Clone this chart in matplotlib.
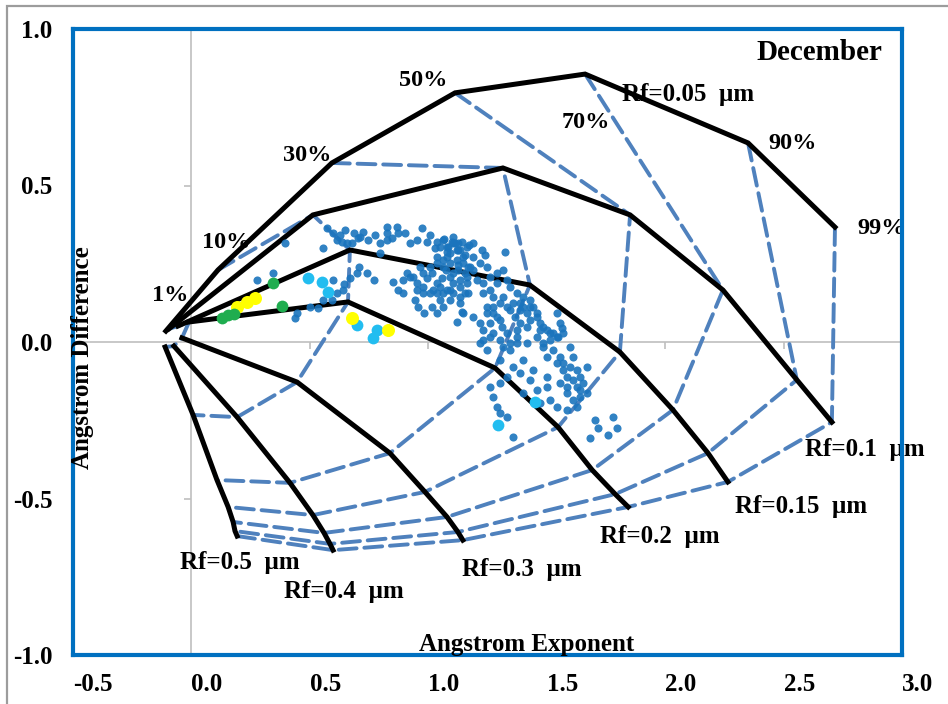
import matplotlib
matplotlib.use("Agg")
import matplotlib.pyplot as plt
from matplotlib.patches import Rectangle

plt.rcParams['font.family'] = ['Liberation Serif', 'DejaVu Serif']
plt.rcParams['font.weight'] = 'bold'

# ---------------------------------------------------------------------------
# Classification grid: one curve per fine-mode radius, nodes at the
# fine-mode fractions 1%, 10%, 30%, 50%, 70%, 90%, 99%
# ---------------------------------------------------------------------------
eta_labels = ['1%', '10%', '30%', '50%', '70%', '90%', '99%']
rf_labels = ['Rf=0.05  \u00b5m', 'Rf=0.1  \u00b5m', 'Rf=0.15  \u00b5m', 'Rf=0.2  \u00b5m',
             'Rf=0.3  \u00b5m', 'Rf=0.4  \u00b5m', 'Rf=0.5  \u00b5m']

ae_rf005 = [-0.108, 0.112, 0.593, 1.113, 1.662, 2.350, 2.717]
ad_rf005 = [0.035, 0.230, 0.572, 0.796, 0.856, 0.636, 0.367]
ae_rf010 = [-0.095, 0.513, 1.315, 1.852, 2.244, 2.556, 2.704]
ad_rf010 = [0.042, 0.406, 0.556, 0.406, 0.166, -0.121, -0.256]
ae_rf015 = [-0.057, 0.669, 1.429, 1.809, 2.033, 2.181, 2.265]
ad_rf015 = [0.051, 0.294, 0.182, -0.032, -0.217, -0.355, -0.447]
ae_rf020 = [-0.010, 0.661, 1.282, 1.548, 1.692, 1.789, 1.844]
ad_rf020 = [0.064, 0.128, -0.083, -0.272, -0.409, -0.486, -0.527]
ae_rf030 = [-0.040, 0.446, 0.838, 0.986, 1.079, 1.125, 1.146]
ad_rf030 = [0.013, -0.128, -0.355, -0.479, -0.559, -0.607, -0.633]
ae_rf040 = [-0.074, 0.193, 0.416, 0.513, 0.560, 0.585, 0.598]
ad_rf040 = [-0.013, -0.240, -0.450, -0.553, -0.610, -0.645, -0.665]
ae_rf050 = [-0.111, 0.007, 0.108, 0.155, 0.176, 0.184, 0.193]
ad_rf050 = [-0.016, -0.233, -0.441, -0.527, -0.575, -0.604, -0.620]

grid_ae = [ae_rf005, ae_rf010, ae_rf015, ae_rf020, ae_rf030, ae_rf040, ae_rf050]
grid_ad = [ad_rf005, ad_rf010, ad_rf015, ad_rf020, ad_rf030, ad_rf040, ad_rf050]

# label anchor points (centre of text, data units)
eta_label_x = [-0.090, 0.147, 0.488, 0.978, 1.666, 2.536, 2.915]
eta_label_y = [0.147, 0.319, 0.597, 0.837, 0.700, 0.633, 0.364]
rf_label_x = [2.097, 2.843, 2.574, 1.978, 1.395, 0.644, 0.206]
rf_label_y = [0.792, -0.345, -0.524, -0.623, -0.728, -0.796, -0.706]

# ---------------------------------------------------------------------------
# December observations
# ---------------------------------------------------------------------------
obs_ae = [0.395, 0.556, 0.572, 0.598, 0.615, 0.636, 0.657, 0.678, 0.686, 0.711,
          0.724, 0.745, 0.826, 0.826, 0.826, 0.868, 0.872, 0.952, 0.973, 0.994,
          1.037, 1.062, 1.083, 1.113, 1.143, 1.164, 0.277, 0.344, 0.556, 0.534,
          0.501, 0.446, 0.437, 0.640, 0.644, 0.669, 0.699, 0.707, 0.741, 0.771,
          0.796, 0.851, 0.872, 0.893, 0.910, 0.935, 0.952, 0.978, 1.007, 1.020,
          1.037, 1.058, 1.075, 1.092, 1.104, 1.134, 1.155, 0.944, 0.957, 0.982,
          1.016, 1.049, 1.062, 1.143, 1.121, 1.092, 1.062, 1.092, 1.121, 1.147,
          1.037, 1.007, 0.978, 0.598, 0.615, 0.594,
          1.066, 1.104, 1.134, 1.170, 1.189, 1.227, 1.239, 1.324, 1.079, 1.125,
          1.176, 1.206, 1.231, 1.260, 1.290, 1.332, 1.345, 1.375, 1.400, 1.429,
          1.442, 1.459, 1.387, 1.366, 1.302, 1.273, 1.248, 1.311, 1.332, 1.260,
          1.218, 1.189, 1.147, 1.134, 1.471, 1.501, 1.526, 1.547, 1.564, 1.417,
          1.375, 1.345,
          1.248, 1.273, 1.302, 1.345, 1.387, 1.429, 1.459, 1.484, 1.513, 1.543,
          1.556, 1.526, 1.556, 1.568, 1.598, 1.585, 1.611, 1.628, 1.640, 1.640,
          1.611, 1.585, 1.568, 1.543, 1.358, 1.387, 1.400, 1.442, 1.429, 1.501,
          1.513, 1.543, 1.471, 1.260, 1.273, 1.290, 1.302, 1.358, 1.670, 1.704,
          1.683, 1.759, 1.779, 1.796, 1.218, 1.231, 1.248, 1.302, 1.315, 1.345,
          1.375, 1.417, 1.471, 1.484, 1.501,
          1.049, 1.079, 1.100, 1.125, 1.155, 1.062, 1.092, 1.125, 1.155, 1.168,
          1.037, 1.016, 0.994, 0.965, 0.923, 0.893, 0.952, 0.978, 1.037, 1.049,
          1.079, 1.104, 1.134, 1.092, 1.062, 1.037, 1.164, 1.168,
          1.079, 1.121, 1.147, 1.189, 1.218, 1.248, 1.189, 1.164, 1.134, 1.104,
          1.260, 1.290, 1.315, 1.231, 1.273, 1.315, 1.332, 1.358, 1.400, 1.417,
          1.429, 1.387, 1.290, 1.260, 1.231, 1.273, 1.302, 1.375, 1.459, 1.484,
          1.513,
          1.543, 1.568, 1.598, 1.611, 1.628, 1.640, 1.653, 1.585, 1.556, 1.501,
          1.459, 1.400, 1.332, 1.302, 1.670, 1.628, 1.585, 1.717, 1.332,
          0.627, 0.648, 0.703, 0.775, 0.796, 0.847, 0.902, 0.923, 1.007, 1.028,
          1.104, 1.125]
obs_ad = [0.316, 0.300, 0.364, 0.348, 0.326, 0.319, 0.316, 0.316, 0.348, 0.335,
          0.351, 0.326, 0.367, 0.348, 0.326, 0.367, 0.348, 0.326, 0.364, 0.319,
          0.319, 0.326, 0.304, 0.316, 0.319, 0.304, 0.198, 0.220, 0.134, 0.109,
          0.112, 0.093, 0.077, 0.166, 0.185, 0.204, 0.220, 0.240, 0.220, 0.198,
          0.284, 0.192, 0.166, 0.157, 0.220, 0.208, 0.188, 0.176, 0.157, 0.166,
          0.188, 0.204, 0.230, 0.208, 0.188, 0.176, 0.157, 0.134, 0.112, 0.093,
          0.112, 0.134, 0.157, 0.096, 0.064, 0.166, 0.262, 0.284, 0.262, 0.252,
          0.252, 0.240, 0.220, 0.198, 0.157, 0.134,
          0.330, 0.316, 0.294, 0.310, 0.316, 0.294, 0.278, 0.288, 0.272, 0.245,
          0.240, 0.198, 0.188, 0.166, 0.188, 0.198, 0.176, 0.157, 0.144, 0.134,
          0.112, 0.093, 0.102, 0.080, 0.125, 0.112, 0.093, 0.048, 0.029, 0.016,
          -0.003, 0.080, 0.093, 0.125, 0.061, 0.038, 0.029, 0.016, 0.045, 0.048,
          0.016, -0.003,
          0.112, 0.093, 0.070, 0.102, 0.125, 0.112, 0.080, 0.048, 0.029, 0.016,
          0.061, -0.026, -0.048, -0.067, -0.080, -0.112, -0.121, -0.144, -0.153, -0.176,
          -0.185, -0.144, -0.089, -0.067, -0.080, -0.099, -0.058, -0.089, -0.121, -0.112,
          -0.185, -0.208, -0.195, -0.144, -0.176, -0.208, -0.227, -0.304, -0.080, -0.249,
          -0.307, -0.297, -0.240, -0.275, 0.061, 0.006, -0.026, -0.058, -0.016, -0.026,
          -0.003, -0.003, 0.038, -0.016, -0.048,
          0.304, 0.288, 0.319, 0.294, 0.278, 0.240, 0.252, 0.230, 0.220, 0.240,
          0.272, 0.220, 0.204, 0.240, 0.208, 0.198, 0.166, 0.157, 0.157, 0.176,
          0.166, 0.157, 0.144, 0.134, 0.112, 0.093, 0.188, 0.157,
          0.304, 0.294, 0.272, 0.272, 0.252, 0.240, 0.230, 0.208, 0.198, 0.220,
          0.208, 0.220, 0.230, 0.157, 0.144, 0.144, 0.112, 0.125, 0.112, 0.093,
          0.070, 0.061, 0.080, 0.061, 0.038, 0.029, 0.006, 0.038, 0.016, -0.003,
          0.006,
          0.093, 0.029, -0.016, -0.048, -0.089, -0.112, -0.131, -0.163, -0.131, -0.144,
          -0.153, -0.163, -0.112, -0.131, -0.163, -0.208, -0.217, -0.275, -0.240,
          0.342, 0.358, 0.332, 0.342, 0.316, 0.332, 0.348, 0.316, 0.342, 0.300,
          0.335, 0.316]

cyan_ae = [0.493, 0.552, 0.577, 0.700, 0.767, 0.784, 1.294, 1.450]
cyan_ad = [0.204, 0.192, 0.160, 0.054, 0.013, 0.038, -0.265, -0.192]
yellow_ae = [0.194, 0.236, 0.269, 0.678, 0.830]
yellow_ad = [0.112, 0.128, 0.141, 0.077, 0.038]
green_ae = [0.130, 0.155, 0.181, 0.344, 0.382]
green_ad = [0.077, 0.086, 0.089, 0.188, 0.115]

x_ticks = [-0.5, 0.0, 0.5, 1.0, 1.5, 2.0, 2.5, 3.0]
y_ticks = [-1.0, -0.5, 0.0, 0.5, 1.0]

# ---------------------------------------------------------------------------
fig = plt.figure(figsize=(9.48, 7.04), dpi=100)
fig.patches.append(Rectangle((7 / 948, -1.0), 2.0, 2.0 - 6 / 704, transform=fig.transFigure,
                             fill=False, ec='#9c9c9c', lw=1.6))
ax = fig.add_axes([73 / 948, 1 - 655 / 704, (902 - 73) / 948, (655 - 29) / 704])
ax.set_xlim(-0.5, 3.0)
ax.set_ylim(-1.0, 1.0)

# cross-hair axes through the origin
gray = '#bfbfbf'
ax.axhline(0, color=gray, lw=1.2, zorder=1)
ax.axvline(0, color=gray, lw=1.2, zorder=1)
ax.plot([t for t in x_ticks if t > -0.5], [0] * 7, ls='none', marker=3, ms=5,
        mec=gray, mew=1.2, zorder=1, clip_on=False)
ax.plot([0] * 4, [t for t in y_ticks if t != 0], ls='none', marker=0, ms=5,
        mec=gray, mew=1.2, zorder=1, clip_on=False)

# equal fine-mode-fraction lines (dashed blue)
for k in range(len(eta_labels)):
    ax.plot([c[k] for c in grid_ae], [c[k] for c in grid_ad], color='#4f81bd', lw=2.8,
            dashes=(4.6, 2.0), dash_capstyle='round', zorder=2)
# equal fine-mode-radius curves (solid black)
for xs, ys in zip(grid_ae, grid_ad):
    ax.plot(xs, ys, color='black', lw=3.6, solid_joinstyle='miter', zorder=3)

ax.scatter(obs_ae, obs_ad, s=34, color='#1a74bd', alpha=0.9, lw=0, zorder=4)
ax.scatter(cyan_ae, cyan_ad, s=72, color='#22bdf0', lw=0, zorder=5)
ax.scatter(yellow_ae, yellow_ad, s=88, color='#ffff00', lw=0, zorder=5)
ax.scatter(green_ae, green_ad, s=72, color='#1fad4f', lw=0, zorder=5)

for t, x, y in zip(eta_labels, eta_label_x, eta_label_y):
    ax.text(x, y, t, fontsize=17.5, fontweight='bold', ha='center', va='center',
            zorder=2.5, clip_on=False)
for t, x, y in zip(rf_labels, rf_label_x, rf_label_y):
    ax.text(x, y, t, fontsize=18, fontweight='bold', ha='center', va='center',
            zorder=2.5, clip_on=False)
ax.text(2.915, 0.901, 'December', fontsize=21, fontweight='bold', ha='right',
        va='baseline', zorder=6)

ax.text(1.416, -0.968, 'Angstrom Exponent', fontsize=18, fontweight='bold',
        ha='center', va='center', zorder=7)
ax.text(-0.458, -0.051, 'Angstrom Difference', fontsize=18, fontweight='bold',
        ha='center', va='center', rotation=90, zorder=7)

# ticks and labels on the framed box
ax.set_xticks(x_ticks)
ax.set_yticks(y_ticks)
ax.set_xticklabels([f'{t:.1f}' for t in x_ticks], ha='left')
ax.set_yticklabels([f'{t:.1f}' for t in y_ticks])
ax.tick_params(axis='x', length=0, pad=13, labelsize=18)
ax.tick_params(axis='y', length=0, pad=15, labelsize=18)
for lab in ax.get_xticklabels() + ax.get_yticklabels():
    lab.set_fontweight('bold')
for sp in ax.spines.values():
    sp.set_color('#0070c0')
    sp.set_linewidth(3.0)
    sp.set_zorder(6)

fig.savefig('out.png', dpi=100)
